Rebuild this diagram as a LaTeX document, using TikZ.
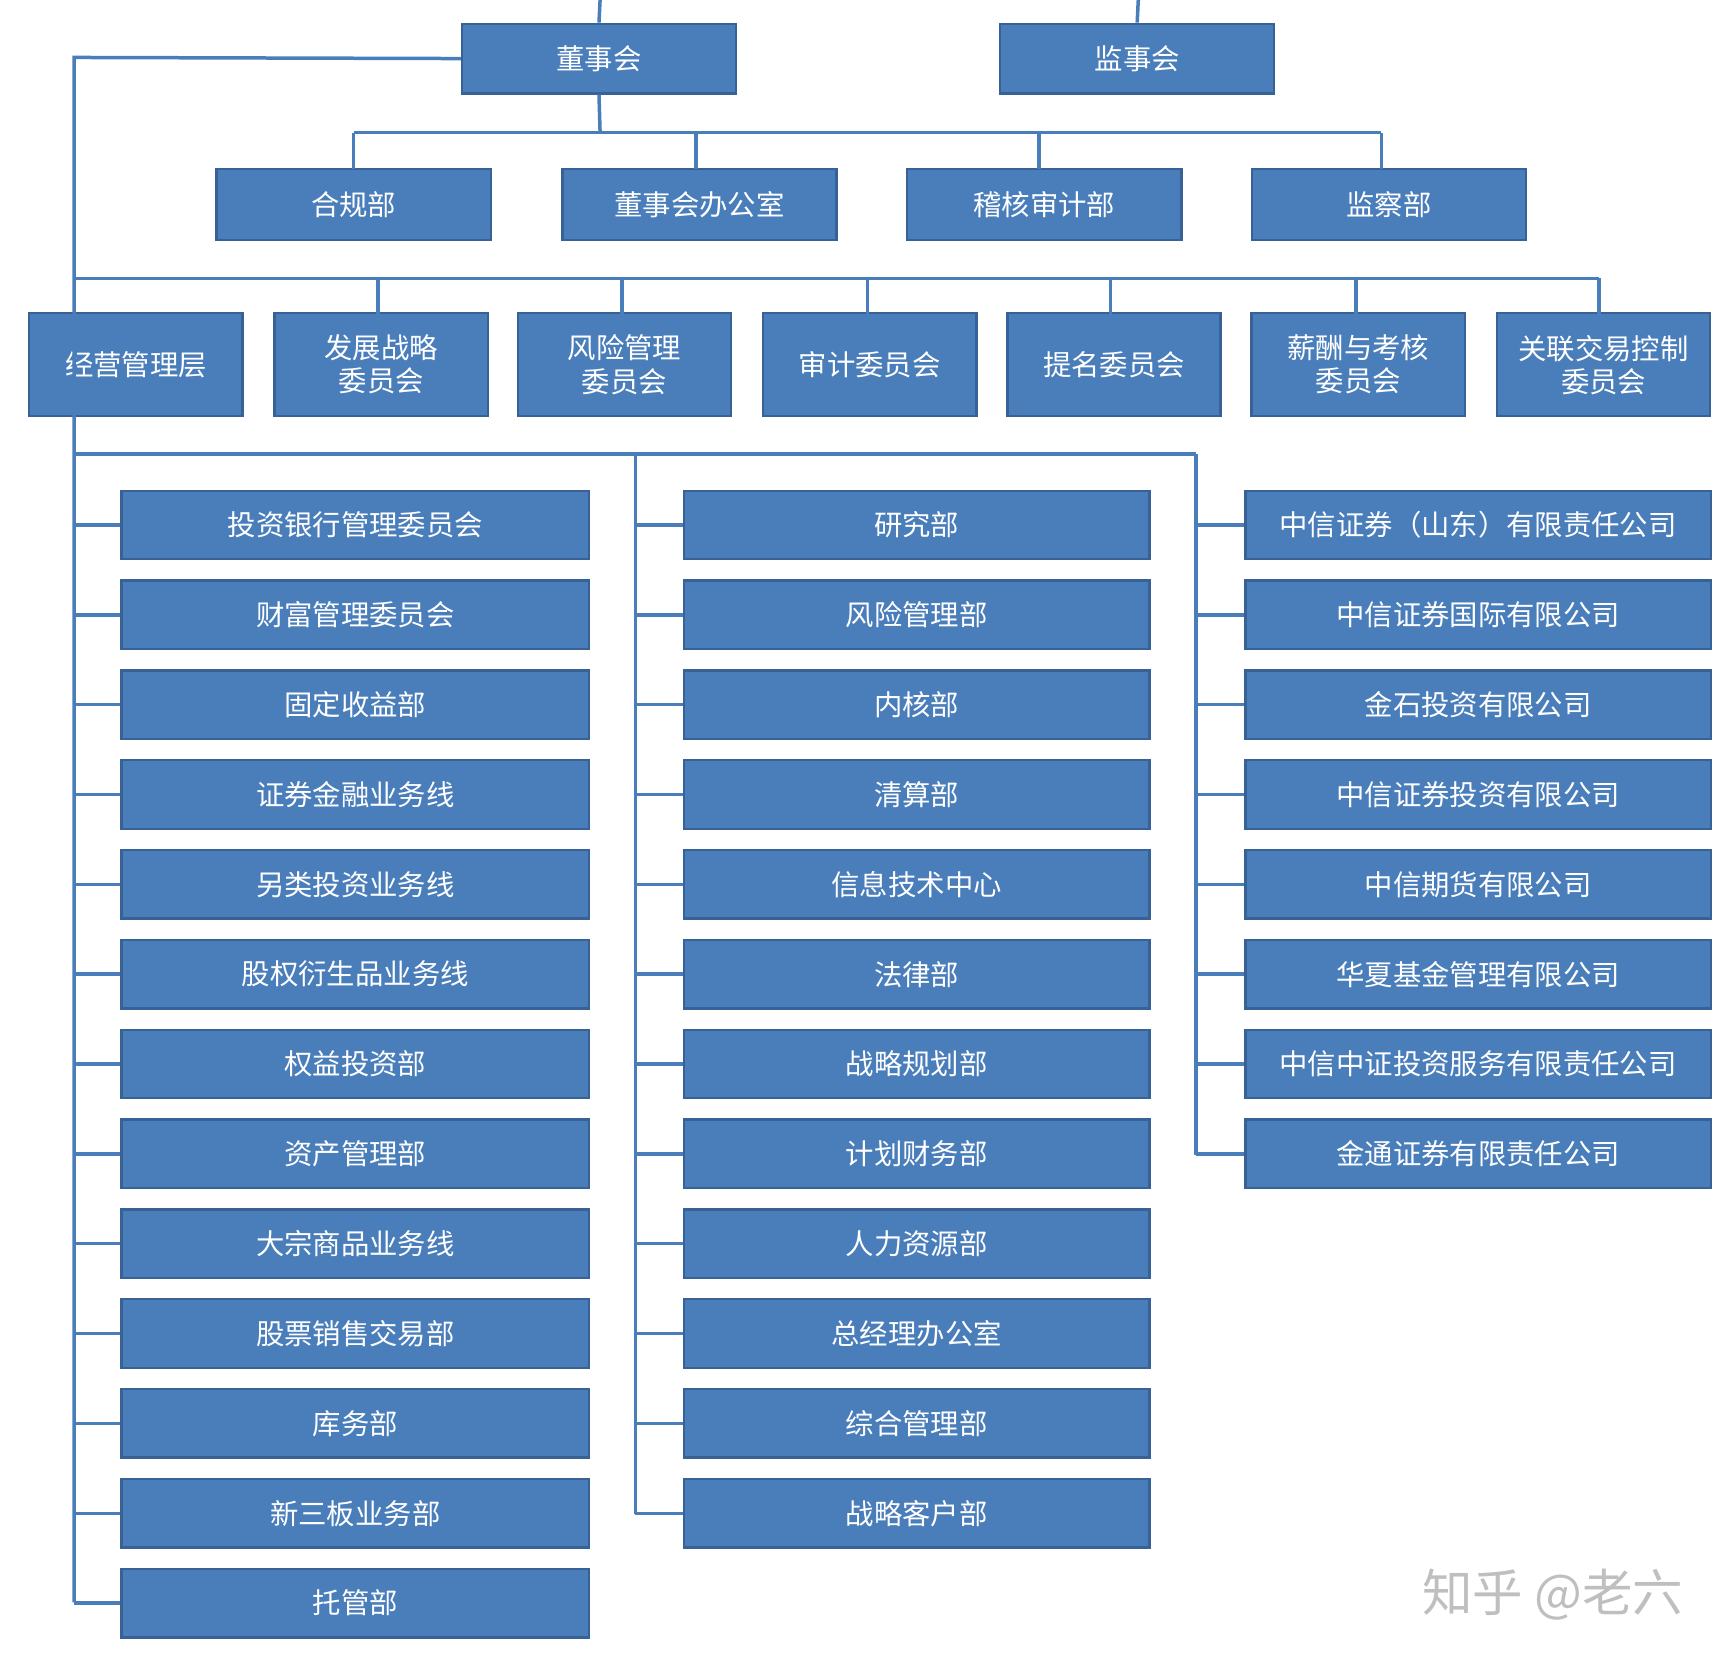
\documentclass[tikz,border=0pt]{standalone}
\usepackage{fontspec}
\newfontfamily\cjk{Noto Sans CJK SC}
\colorlet{boxblue}{rgb,255:red,74;green,126;blue,187}
\colorlet{boxedge}{rgb,255:red,56;green,98;blue,150}
\begin{document}
\begin{tikzpicture}[x=0.01cm,y=-0.01cm,
  box/.style={draw=boxedge,fill=boxblue,text=white,font=\cjk\fontsize{7.3}{8.5}\selectfont,align=center,inner sep=0pt,line width=0.6pt},
  bw/.style={minimum width=#1*0.01cm},
  bh/.style={minimum height=#1*0.01cm},
  ln/.style={draw=boxblue,line width=0.9pt}]
\useasboundingbox (0,0) rectangle (1560,1498);
\fill[white] (0,0) rectangle (1560,1498);
% top
\node[box,bw=248,bh=63] (dsh) at (542,53) {董事会};
\node[box,bw=248,bh=63] (jsh) at (1029,53) {监事会};
\foreach \n/\x/\t in {r1/320/合规部,r2/633/董事会办公室,r3/945/稽核审计部,r4/1257/监察部}
  \node[box,bw=248,bh=64] (\n) at (\x,185) {\t};
\foreach \n/\x/\t in {k1/123/经营管理层,k2/345/发展战略\\委员会,k3/565/风险管理\\委员会,k4/787/审计委员会,k5/1008/提名委员会,k6/1229/薪酬与考核\\委员会,k7/1451/关联交易控制\\委员会}
  \node[box,bw=193,bh=93] (\n) at (\x,330) {\t};
\coordinate (t1) at (543,0); \coordinate (t2) at (1030,0);
\draw[ln] (t1) -- (dsh.north); \draw[ln] (t2) -- (jsh.north);
\coordinate (hb) at (543,120);
\draw[ln] (dsh.south) -- (hb);
\draw[ln] (320,120) -- (1250,120);
\foreach \x in {320,630,940,1250}
  \draw[ln] (\x,120) -- (\x,153);
% spine
\draw[ln] (dsh.west) -- (67,52) -- (67,1450);
\draw[ln] (67,252) -- (1447,252);
\foreach \x in {342,563,785,1005,1227,1447} \draw[ln] (\x,252) -- (\x,284);
\draw[ln] (67,411) -- (1082,411);
% columns
\foreach \t [count=\i] in {投资银行管理委员会,财富管理委员会,固定收益部,证券金融业务线,另类投资业务线,股权衍生品业务线,权益投资部,资产管理部,大宗商品业务线,股票销售交易部,库务部,新三板业务部,托管部}{
  \pgfmathsetmacro\yy{475+81.3*(\i-1)}
  \node[box,bw=423,bh=62] (a\i) at (321.5,\yy) {\t};
  \draw[ln] (67,\yy) -- (a\i.west);
}
\draw[ln] (575,411) -- (575,1370);
\foreach \t [count=\i] in {研究部,风险管理部,内核部,清算部,信息技术中心,法律部,战略规划部,计划财务部,人力资源部,总经理办公室,综合管理部,战略客户部}{
  \pgfmathsetmacro\yy{475+81.3*(\i-1)}
  \node[box,bw=421,bh=62] (b\i) at (829.5,\yy) {\t};
  \draw[ln] (575,\yy) -- (b\i.west);
}
\draw[ln] (1082,411) -- (1082,1045);
\foreach \t [count=\i] in {中信证券（山东）有限责任公司,中信证券国际有限公司,金石投资有限公司,中信证券投资有限公司,中信期货有限公司,华夏基金管理有限公司,中信中证投资服务有限责任公司,金通证券有限责任公司}{
  \pgfmathsetmacro\yy{475+81.3*(\i-1)}
  \node[box,bw=421,bh=62] (c\i) at (1337.5,\yy) {\t};
  \draw[ln] (1082,\yy) -- (c\i.west);
}
\node[text=black!25,font=\cjk\fontsize{13}{15}\selectfont] (wm) at (1405,1443) {知乎 @老六};
\end{tikzpicture}
\end{document}
